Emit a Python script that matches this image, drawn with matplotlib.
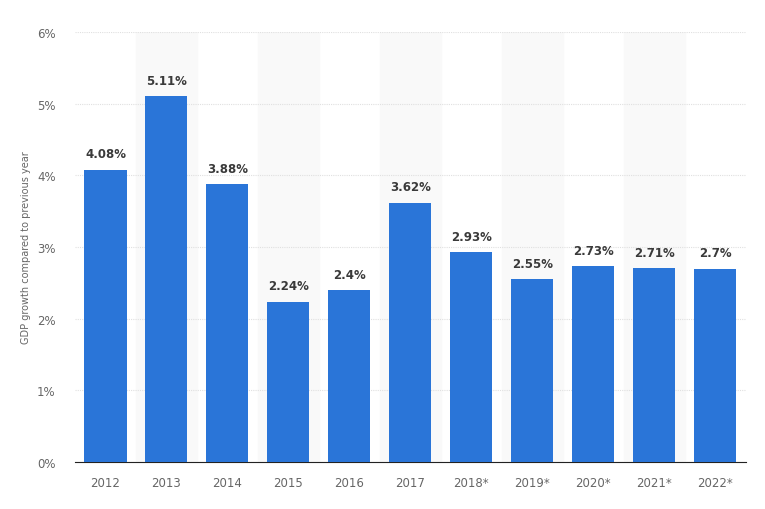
import numpy as np
import matplotlib.pyplot as plt

years = ['2012', '2013', '2014', '2015', '2016', '2017', '2018*', '2019*', '2020*', '2021*', '2022*']
growth = [4.08, 5.11, 3.88, 2.24, 2.4, 3.62, 2.93, 2.55, 2.73, 2.71, 2.7]
labels = ['4.08%', '5.11%', '3.88%', '2.24%', '2.4%', '3.62%', '2.93%', '2.55%', '2.73%', '2.71%', '2.7%']

fig = plt.figure(figsize=(7.65, 5.1), dpi=100)
ax = fig.add_axes([0.098, 0.092, 0.877, 0.843])

x = np.arange(len(years))
# alternating column shading
for i in x:
    if i % 2 == 1:
        ax.axvspan(i - 0.5, i + 0.5, color='#f9f9f9', zorder=0)

ax.bar(x, growth, width=0.69, color='#2a75d8', zorder=3)
for i, v in enumerate(growth):
    ax.text(i, v + 0.13, labels[i], ha='center', va='bottom', fontsize=8.5,
            fontweight='bold', color='#3a3a3a', zorder=4)

ax.set_xlim(-0.5, len(years) - 0.5)
ax.set_ylim(0, 6)
ax.set_yticks(range(0, 7))
ax.set_yticklabels([str(t) + '%' for t in range(0, 7)])
ax.set_xticks(x)
ax.set_xticklabels(years)
ax.grid(axis='y', color='#e0e0e0', linestyle=(0, (1, 1)), linewidth=0.8, zorder=1)
ax.set_ylabel('GDP growth compared to previous year', fontsize=7, color='#666666')

for s in ['top', 'right', 'left']:
    ax.spines[s].set_visible(False)
ax.spines['bottom'].set_color('#222222')
ax.tick_params(axis='both', length=0, labelsize=8.5, colors='#666666')
ax.tick_params(axis='x', pad=10)
ax.tick_params(axis='y', pad=14)

fig.savefig('out.png', dpi=100)
